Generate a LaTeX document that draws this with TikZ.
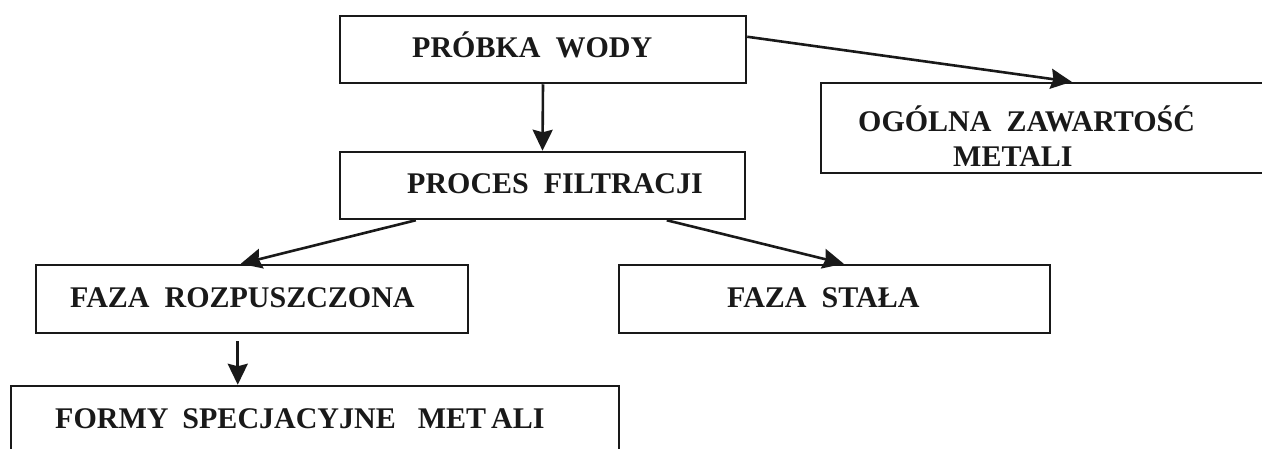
\documentclass[tikz,border=0pt]{standalone}
\usepackage{fontspec}
\setmainfont{Liberation Serif}
\usetikzlibrary{arrows.meta}
\begin{document}
\begin{tikzpicture}[x=1pt,y=-1pt,
  box/.style={draw=black!90,line width=2.5pt,rectangle,inner sep=0pt},
  lbl/.style={anchor=base west,inner sep=0pt,font=\bfseries\fontsize{30}{35}\selectfont,text=black!90},
  arr/.style={draw=black!90,line width=2.6pt,-{Stealth[length=21pt,width=20pt,inset=2.5pt]}}]
\useasboundingbox (0,0) rectangle (1262,448);
% boxes
\node[box,minimum width=406pt,minimum height=67pt] (probka) at (543,49.5) {};
\node[box,minimum width=405pt,minimum height=67pt] (proces) at (542.5,185.5) {};
\node[box,minimum width=469pt,minimum height=90pt] (ogolna) at (1055.5,128) {};
\node[box,minimum width=432pt,minimum height=68pt] (rozp) at (252,299) {};
\node[box,minimum width=431pt,minimum height=68pt] (stala) at (834.5,299) {};
\node[box,minimum width=608pt,minimum height=84pt] (formy) at (315,428) {};
% labels
\node[lbl] (tprobka) at (412,57) {PRÓBKA\ \ WODY};
\node[lbl] (tproces) at (407,193) {PROCES\ \ FILTRACJI};
\node[lbl] (togolna1) at (858,131) {OGÓLNA\ \ ZAWARTOŚĆ};
\node[lbl] (togolna2) at (953,166) {METALI};
\node[lbl] (trozp) at (70,307) {FAZA\ \ ROZPUSZCZONA};
\node[lbl] (tstala) at (727,307) {FAZA\ \ STAŁA};
\node[lbl] (tformy) at (55,428) {FORMY\hspace{14pt}SPECJACYJNE\hspace{22pt}MET\hspace{5pt}ALI};
% connectors
\draw[arr] (probka.south) -- (proces.north);
\draw[arr] ([yshift=-22pt]probka.north east) -- ([xshift=252pt]ogolna.north west);
\draw[arr] ([xshift=77pt]proces.south west) -- ([xshift=206pt]rozp.north west);
\draw[arr] ([xshift=328pt]proces.south west) -- ([xshift=226pt]stala.north west);
\draw[arr] ([xshift=203pt,yshift=-7pt]rozp.south west) -- ([xshift=228pt]formy.north west);
\end{tikzpicture}
\end{document}
